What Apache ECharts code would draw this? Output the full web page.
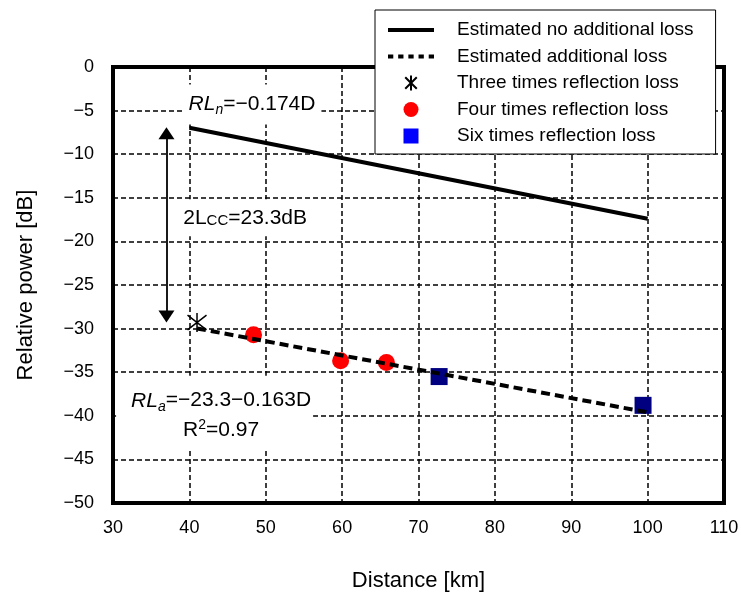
<!DOCTYPE html>
<html>
<head>
<meta charset="utf-8">
<script src="https://cdn.jsdelivr.net/npm/echarts@6/dist/echarts.min.js"></script>
<style>
  html, body { margin: 0; padding: 0; background: #fff; }
  #chart { width: 741px; height: 595px; }
</style>
</head>
<body>
<div id="chart"></div>
<script>
// Fitted lines: distance range [km] and relative power [dB] at each end
const noLossDistance = [40, 100];
const noLossPower = [-6.96, -17.4];          // RLn = -0.174 D
const addLossDistance = [41, 100];
const addLossPower = [-29.98, -39.6];        // RLa = -23.3 - 0.163 D

// Measured reflection losses
const threeTimesDistance = [41.0];
const threeTimesPower = [-29.3];
const fourTimesDistance = [48.4, 59.8, 65.8];
const fourTimesPower = [-30.7, -33.7, -33.9];
const sixTimesDistance = [72.7, 99.4];
const sixTimesPower = [-35.5, -38.8];

// Axis ticks
const xTicks = [30, 40, 50, 60, 70, 80, 90, 100, 110];
const yTicks = [0, -5, -10, -15, -20, -25, -30, -35, -40, -45, -50];

const seriesNames = [
  'Estimated no additional loss',
  'Estimated additional loss',
  'Three times reflection loss',
  'Four times reflection loss',
  'Six times reflection loss'
];

const zip = (xs, ys) => xs.map((x, i) => [x, ys[i]]);

const FONT = 'Liberation Sans, Arial, sans-serif';
const asterisk = 'path://M0,0L10,10M10,0L0,10M5,-1.5L5,11.5';
const gridLine = { color: '#000', width: 1.5, type: [5, 3] };

// Legend swatches for the two fitted lines
const solidBar = 'path://M0,0H47V4H0Z';
const dashBar = 'path://' + [0, 10.4, 20.8, 31.2, 41.6]
  .map(x => 'M' + x + ',0H' + (x + 5.4) + 'V4H' + x + 'Z').join('');

const chart = echarts.init(document.getElementById('chart'), null, { renderer: 'canvas' });

const option = {
  animation: false,
  backgroundColor: '#fff',
  textStyle: { fontFamily: FONT },
  grid: {
    left: 113, right: 17, top: 67, bottom: 92,
    outerBoundsMode: 'none',
    containLabel: false,
    show: true, borderColor: '#000', borderWidth: 4, backgroundColor: 'transparent'
  },
  xAxis: {
    type: 'value',
    min: xTicks[0], max: xTicks[xTicks.length - 1], interval: 10,
    name: 'Distance [km]', nameLocation: 'middle', nameGap: 67,
    nameTextStyle: { fontSize: 22, color: '#000', fontFamily: FONT },
    axisLine: { show: false }, axisTick: { show: false },
    axisLabel: { fontSize: 18, color: '#000', margin: 16, fontFamily: FONT },
    splitLine: { show: true, lineStyle: gridLine }
  },
  yAxis: {
    type: 'value',
    min: yTicks[yTicks.length - 1], max: yTicks[0], interval: 5,
    name: 'Relative power [dB]', nameLocation: 'middle', nameGap: 76,
    nameTextStyle: { fontSize: 22, color: '#000', fontFamily: FONT },
    axisLine: { show: false }, axisTick: { show: false },
    axisLabel: {
      fontSize: 18, color: '#000', margin: 19, fontFamily: FONT,
      formatter: v => (v < 0 ? '\u2212' + Math.abs(v) : String(v))
    },
    splitLine: { show: true, lineStyle: gridLine }
  },
  legend: {
    orient: 'vertical',
    left: 375, top: 10,
    padding: [10, 22, 8, 13],
    backgroundColor: '#fff',
    borderColor: '#000', borderWidth: 1,
    itemWidth: 46, itemHeight: 15, itemGap: 6.5,
    textStyle: { fontSize: 19, color: '#000', fontFamily: FONT, padding: [0, 0, 0, 18], lineHeight: 20 },
    data: [
      { name: seriesNames[0], icon: solidBar, itemStyle: { color: '#000', opacity: 1 } },
      { name: seriesNames[1], icon: dashBar, itemStyle: { color: '#000', opacity: 1 } },
      { name: seriesNames[2], icon: asterisk, itemStyle: { color: 'none', borderColor: '#000', borderWidth: 2, opacity: 1 } },
      { name: seriesNames[3], icon: 'circle', itemStyle: { color: '#ff0000', opacity: 1 } },
      { name: seriesNames[4], icon: 'path://M0,0H10V10H0Z', itemStyle: { color: '#0000ff', opacity: 1 } }
    ]
  },
  series: [
    {
      name: seriesNames[0], type: 'line', z: 4,
      data: zip(noLossDistance, noLossPower),
      symbol: 'none', showSymbol: false,
      lineStyle: { color: '#000', width: 4, type: 'solid' },
      itemStyle: { color: '#000' }
    },
    {
      name: seriesNames[1], type: 'line', z: 4,
      data: zip(addLossDistance, addLossPower),
      symbol: 'none', showSymbol: false,
      lineStyle: { color: '#000', width: 4, type: [9, 5] },
      itemStyle: { color: '#000' }
    },
    {
      name: seriesNames[2], type: 'scatter', z: 5,
      data: zip(threeTimesDistance, threeTimesPower),
      symbol: asterisk, symbolSize: 19,
      itemStyle: { color: 'none', borderColor: '#000', borderWidth: 1.5, opacity: 1 }
    },
    {
      name: seriesNames[3], type: 'scatter', z: 3,
      data: zip(fourTimesDistance, fourTimesPower),
      symbol: 'circle', symbolSize: 17,
      itemStyle: { color: '#ff0000', opacity: 1 }
    },
    {
      name: seriesNames[4], type: 'scatter', z: 3,
      data: zip(sixTimesDistance, sixTimesPower),
      symbol: 'rect', symbolSize: 17,
      itemStyle: { color: '#000080', opacity: 1 }
    },
    {
      // Equation and loss annotations, plus the double arrow for 2Lcc
      name: 'notes', type: 'scatter', z: 6,
      symbolSize: 1, itemStyle: { color: 'transparent', opacity: 1 },
      silent: true,
      label: {
        show: true, position: 'inside', color: '#000',
        fontFamily: FONT, fontSize: 21,
        backgroundColor: '#fff'
      },
      labelLayout: { hideOverlap: false },
      data: [
        {
          value: [48.2, -4.3],
          label: {
            padding: [7, 6, 7, 6],
            formatter: '{i|RL}{sub|n}{t|=\u22120.174D}',
            rich: {
              i: { fontStyle: 'italic', fontSize: 21, fontFamily: FONT },
              sub: { fontStyle: 'italic', fontSize: 14, fontFamily: FONT, padding: [12, 0, 0, 0] },
              t: { fontSize: 21, fontFamily: FONT }
            }
          }
        },
        {
          value: [47.3, -17.3],
          label: {
            padding: [8, 8, 8, 8],
            formatter: '{t|2L}{s|CC}{t|=23.3dB}',
            rich: {
              t: { fontSize: 21, fontFamily: FONT },
              s: { fontSize: 15, fontFamily: FONT, padding: [6, 0, 0, 0] }
            }
          }
        },
        {
          value: [43.3, -39.7],
          label: {
            padding: [10, 2, 5, 15],
            align: 'center',
            formatter: '{i|RL}{sub|a}{t|=\u221223.3\u22120.163D}\n{t|R}{sup|2}{t|=0.97}',
            rich: {
              i: { fontStyle: 'italic', fontSize: 21, fontFamily: FONT, lineHeight: 30 },
              sub: { fontStyle: 'italic', fontSize: 14, fontFamily: FONT, padding: [12, 0, 0, 0], lineHeight: 30 },
              t: { fontSize: 21, fontFamily: FONT, lineHeight: 30 },
              sup: { fontSize: 14, fontFamily: FONT, padding: [0, 0, 12, 0], lineHeight: 30 }
            }
          }
        }
      ],
      markLine: {
        silent: true,
        symbol: ['triangle', 'triangle'],
        symbolSize: [16, 12],
        label: { show: false },
        lineStyle: { color: '#000', width: 1.8, type: 'solid' },
        itemStyle: { color: '#000' },
        emphasis: { disabled: true },
        data: [[{ coord: [37, -7.6] }, { coord: [37, -28.6] }]]
      }
    }
  ]
};

chart.setOption(option);
</script>
</body>
</html>
